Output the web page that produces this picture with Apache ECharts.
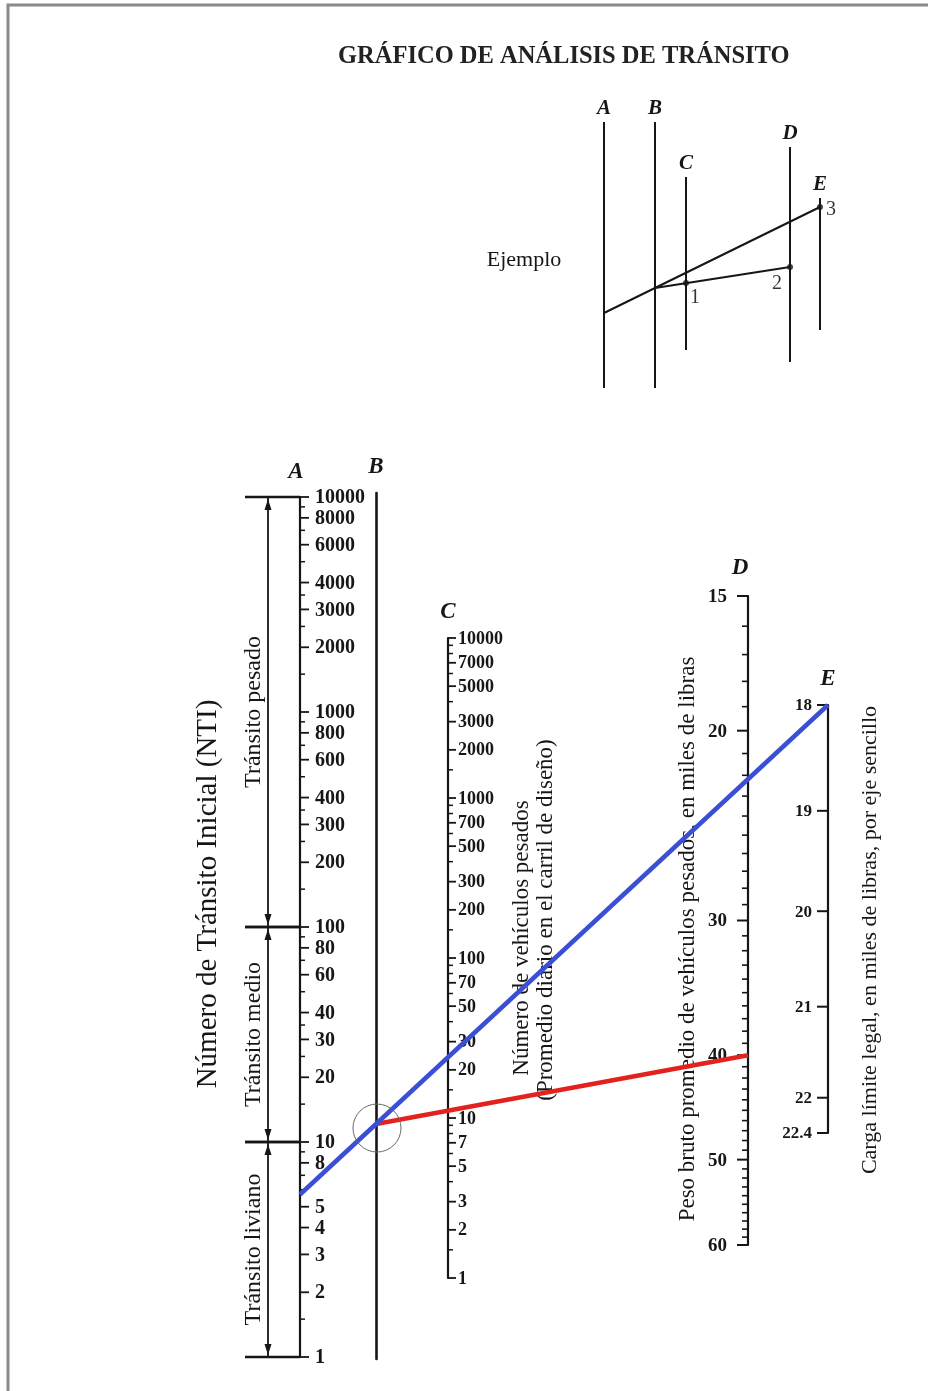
<!DOCTYPE html>
<html><head><meta charset="utf-8">
<script src="https://cdn.jsdelivr.net/npm/echarts@6/dist/echarts.min.js"></script>
<style>html,body{margin:0;padding:0;background:#fff}#c{width:928px;height:1391px}</style>
</head><body><div id="c"></div>
<script>
// ---------------- data ----------------
const chartTitle = 'GRÁFICO DE ANÁLISIS DE TRÁNSITO';
const aLabels = [10000,8000,6000,4000,3000,2000,1000,800,600,400,300,200,100,80,60,40,30,20,10,8,5,4,3,2,1];
const aMinor = [9000,7000,5000,3500,2500,1500,900,700,500,350,250,150,90,70,50,35,25,15,9,7,6,1.5];
const trafficBounds = [10000,100,10,1];
const trafficClasses = ['Tránsito pesado','Tránsito medio','Tránsito liviano'];
const cLabels = [10000,7000,5000,3000,2000,1000,700,500,300,200,100,70,50,30,20,10,7,5,3,2,1];
const cMinor = [9000,8000,6000,4000,1500,900,800,600,400,150,90,80,60,40,15,9,8,6,4,1.5];
const dLabels = [15,20,30,40,50,60];
const dMinor = [16,17,18,19,21,22,23,24,25,26,27,28,29,31,32,33,34,35,36,37,38,39,41,42,43,44,45,46,47,48,49,51,52,53,54,55,56,57,58,59];
const eLabels = [18,19,20,21,22,22.4];
const blueLine = {A: 5.7, E: 18};   // A value -> E value, pivots on B
const redLine = {D: 40};             // from the B pivot -> D value
// example sketch (schematic units)
const exampleAxes = [['A',3.0,27.8,1.2],['B',8.1,27.8,1.2],['C',11.2,22.3,5.0],['D',21.6,25.3,3.8],['E',24.6,20.2,7.0]];
const exampleLine1 = [[3.0,8.7],[24.6,19.3]];
const exampleLine2 = [[8.1,11.2],[21.6,13.3]];
const examplePoints = [[11.2,11.7,'1'],[21.6,13.3,'2'],[24.6,19.3,'3']];

// ---------------- style / layout ----------------
const FONT = "'Liberation Serif','DejaVu Serif','Times New Roman',serif";
const INK = '#161616';
const chart = echarts.init(document.getElementById('c'));

const grids = [
  {left:300, top:497, width:40, height:860},  // A
  {left:376, top:493, width:40, height:866},  // B
  {left:448, top:638, width:40, height:640},  // C
  {left:748, top:596, width:40, height:649},  // D
  {left:828, top:705, width:40, height:428},  // E
  {left:574, top:100, width:300, height:300}  // example
];
const xAxes = grids.map((g,i)=>({gridIndex:i, type:'value', min:0, max: i===5?30:1, show:false}));
function scaleAxis(gi, extra){
  return Object.assign({
    gridIndex:gi, position:'left',
    axisLine:{show:true, onZero:false, lineStyle:{color:INK, width:2.2}},
    axisTick:{show:false}, axisLabel:{show:false}, splitLine:{show:false},
    nameLocation:'end', nameGap:9,
    nameTextStyle:{fontFamily:FONT, fontStyle:'italic', fontWeight:'bold', fontSize:23, color:INK}
  }, extra);
}
const yAxes = [
  scaleAxis(0,{type:'log', logBase:10, min:1, max:10000, name:'A', nameGap:13, nameTextStyle:{fontFamily:FONT, fontStyle:'italic', fontWeight:'bold', fontSize:23, color:INK, padding:[0,8,0,0]}}),
  scaleAxis(1,{type:'value', min:0, max:1, name:'B', nameGap:14, axisLine:{show:true, lineStyle:{color:INK, width:2.6}}}),
  scaleAxis(2,{type:'log', logBase:10, min:1, max:10000, name:'C', nameGap:14}),
  scaleAxis(3,{type:'log', logBase:10, min:15, max:60, inverse:true, name:'D', nameLocation:'start', nameGap:16, nameTextStyle:{fontFamily:FONT, fontStyle:'italic', fontWeight:'bold', fontSize:23, color:INK, padding:[0,16,0,0]}}),
  scaleAxis(4,{type:'log', logBase:10, min:18, max:22.4, inverse:true, name:'E', nameLocation:'start', nameGap:14}),
  {gridIndex:5, type:'value', min:0, max:30, show:false}
];

function tickSeries(gi, values, len, dir, width){
  return {type:'custom', xAxisIndex:gi, yAxisIndex:gi, silent:true, z:3,
    data: values.map(v=>[0,v]),
    renderItem(params, api){
      const p = api.coord([0, api.value(1)]);
      return {type:'line', shape:{x1:p[0], y1:p[1], x2:p[0]+dir*len, y2:p[1]}, style:{stroke:INK, lineWidth:width}};
    }};
}
function labelSeries(gi, values, off, size){
  return {type:'custom', xAxisIndex:gi, yAxisIndex:gi, silent:true, z:3,
    data: values.map(v=>[0,v]),
    renderItem(params, api){
      const v = api.value(1);
      const p = api.coord([0, v]);
      return {type:'text', x:p[0]+off, y:p[1]+1, style:{text:String(v), fill:INK, fontFamily:FONT, fontWeight:'bold', fontSize:size, align: off>0?'left':'right', verticalAlign:'middle'}};
    }};
}
const segments = trafficBounds.slice(0,-1).map((v,i)=>[0, v, trafficBounds[i+1]]);
const bracketSeries = {type:'custom', xAxisIndex:0, yAxisIndex:0, silent:true, z:3,
  data: segments,
  renderItem(params, api){
    const t = api.coord([0, api.value(1)]), b = api.coord([0, api.value(2)]);
    const x0 = t[0], bx = x0-32, y1 = t[1], y2 = b[1];
    return {type:'group', children:[
      {type:'line', shape:{x1:bx, y1:y1, x2:bx, y2:y2}, style:{stroke:INK, lineWidth:1.8}},
      {type:'line', shape:{x1:x0-55, y1:y1, x2:x0, y2:y1}, style:{stroke:INK, lineWidth:2.6}},
      {type:'line', shape:{x1:x0-55, y1:y2, x2:x0, y2:y2}, style:{stroke:INK, lineWidth:2.6}},
      {type:'polygon', shape:{points:[[bx,y1+2],[bx-3.5,y1+13],[bx+3.5,y1+13]]}, style:{fill:INK}},
      {type:'polygon', shape:{points:[[bx,y2-2],[bx-3.5,y2-13],[bx+3.5,y2-13]]}, style:{fill:INK}},
      {type:'text', x:x0-46, y:(y1+y2)/2, rotation:Math.PI/2,
        style:{text:trafficClasses[params.dataIndex], fill:INK, fontFamily:FONT, fontSize:24, align:'center', verticalAlign:'middle'}}
    ]};
  }};

const exampleAxisSeries = {type:'custom', xAxisIndex:5, yAxisIndex:5, silent:true,
  data: exampleAxes.map(r=>[r[1],r[2],r[3]]),
  renderItem(params, api){
    const t = api.coord([api.value(0), api.value(1)]), b = api.coord([api.value(0), api.value(2)]);
    return {type:'group', children:[
      {type:'line', shape:{x1:t[0], y1:t[1], x2:b[0], y2:b[1]}, style:{stroke:INK, lineWidth:2}},
      {type:'text', x:t[0], y:t[1]-3, style:{text:exampleAxes[params.dataIndex][0], fill:INK, fontFamily:FONT, fontStyle:'italic', fontWeight:'bold', fontSize:21, align:'center', verticalAlign:'bottom'}}
    ]};
  }};
const pointLabelOffsets = [[9,15],[-13,17],[11,3]];

function rotText(id, text, x, y, size){
  return {id, type:'text', x, y, rotation:Math.PI/2, z:10,
    style:{text, fill:INK, fontFamily:FONT, fontSize:size, align:'center', verticalAlign:'middle'}};
}

chart.setOption({
  animation:false,
  backgroundColor:'#ffffff',
  title:{text:chartTitle, left:333, top:39, textStyle:{fontFamily:FONT, fontSize:24.5, fontWeight:'bold', color:'#222'}},
  grid:grids, xAxis:xAxes, yAxis:yAxes,
  series:[
    tickSeries(0, aLabels, 9, 1, 1.8), tickSeries(0, aMinor, 5, 1, 1.5), labelSeries(0, aLabels, 15, 20),
    bracketSeries,
    tickSeries(2, cLabels, 8, 1, 1.8), tickSeries(2, cMinor, 5, 1, 1.5), labelSeries(2, cLabels, 10, 18),
    tickSeries(3, dLabels, 11, -1, 2), tickSeries(3, dMinor, 6, -1, 1.6), labelSeries(3, dLabels, -21, 19),
    tickSeries(4, eLabels, 11, -1, 2), labelSeries(4, eLabels, -16, 17),
    exampleAxisSeries,
    {type:'line', xAxisIndex:5, yAxisIndex:5, data:exampleLine1, symbol:'none', silent:true, lineStyle:{color:INK, width:2}},
    {type:'line', xAxisIndex:5, yAxisIndex:5, data:exampleLine2, symbol:'none', silent:true, lineStyle:{color:INK, width:2}},
    {type:'scatter', xAxisIndex:5, yAxisIndex:5, symbolSize:6, itemStyle:{color:INK}, silent:true,
      data: examplePoints.map((p,i)=>({value:[p[0],p[1]], label:{show:true, formatter:p[2], offset:pointLabelOffsets[i], color:'#000', textBorderWidth:0, fontFamily:FONT, fontSize:20, position:'inside'}}))}
  ],
  graphic:[
    {id:'frame', type:'polyline', shape:{points:[[8,1391],[8,5],[928,5]]}, style:{stroke:'#8a8a8a', lineWidth:3, fill:null}},
    {id:'ejemplo', type:'text', x:524, y:260, style:{text:'Ejemplo', fill:INK, fontFamily:FONT, fontSize:22, align:'center', verticalAlign:'middle'}},
    rotText('nti','Número de Tránsito Inicial (NTI)', 208, 894, 29),
    rotText('c1','Número de vehículos pesados', 522, 938, 23),
    rotText('c2','(Promedio diario en el carril de diseño)', 546, 920, 23),
    rotText('d1','Peso bruto promedio de vehículos pesados, en miles de libras', 688, 939, 23),
    rotText('e1','Carga límite legal, en miles de libras, por eje sencillo', 870, 940, 22)
  ]
});

// lines drawn through the axis scales
const px = (gi, v) => chart.convertToPixel({gridIndex:gi}, [0, v]);
const a = px(0, blueLine.A), e = px(4, blueLine.E);
const bx = px(1, 0)[0];
const by = a[1] + (e[1]-a[1]) * (bx - a[0]) / (e[0]-a[0]);
const d = px(3, redLine.D);
chart.setOption({graphic:[
  {id:'blue', type:'line', z:20, shape:{x1:a[0], y1:a[1], x2:e[0], y2:e[1]}, style:{stroke:'#3b4fd4', lineWidth:4.5}},
  {id:'red', type:'line', z:19, shape:{x1:bx, y1:by, x2:d[0], y2:d[1]}, style:{stroke:'#e3221e', lineWidth:4.5}},
  {id:'circle', type:'circle', z:21, shape:{cx:bx+1, cy:by+4, r:24}, style:{stroke:'#6a6a6a', lineWidth:1, fill:null}}
]});
</script></body></html>
